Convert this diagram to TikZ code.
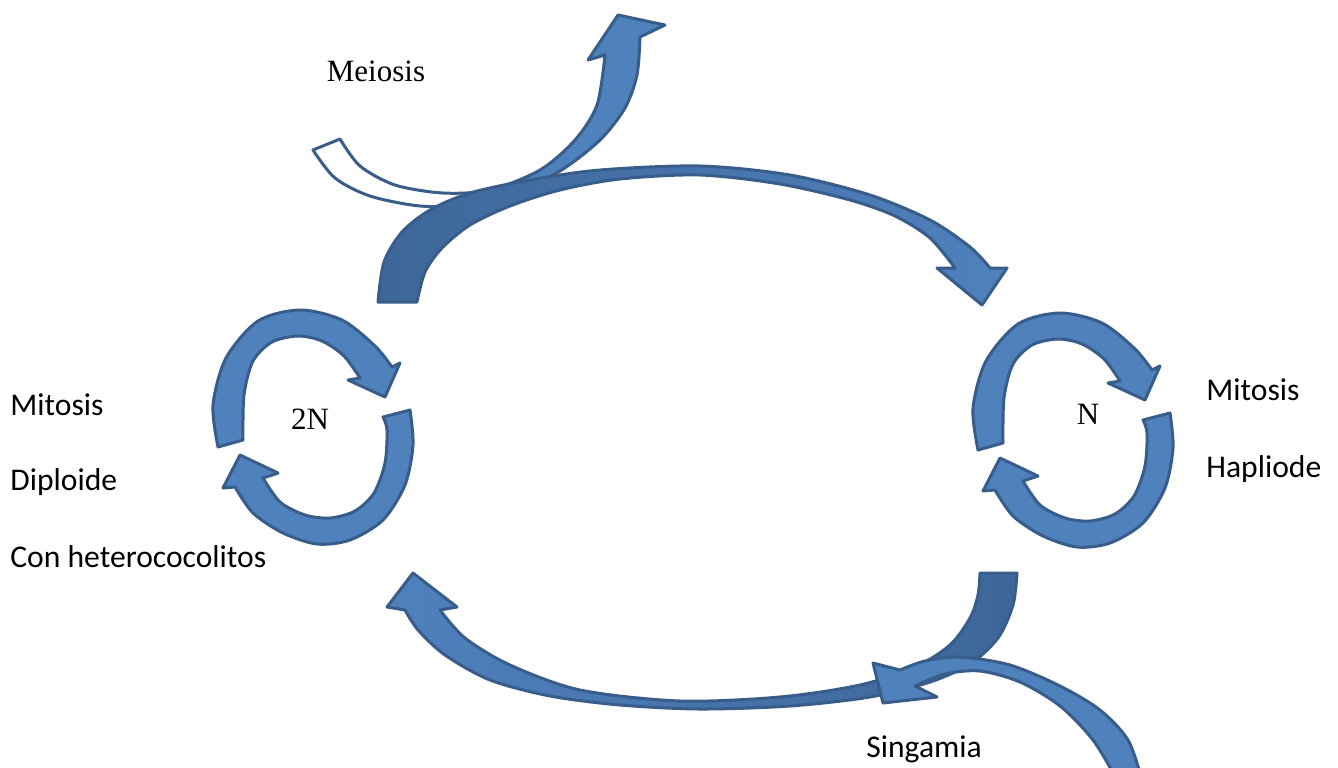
\documentclass[tikz,border=0pt]{standalone}
\usepackage{fontspec}
\setmainfont{Liberation Serif}
\newfontfamily\carlitofont{Carlito}
\definecolor{arrowfill}{HTML}{4F81BD}
\definecolor{arrowdark}{HTML}{3E6698}
\definecolor{arrowline}{HTML}{385D8A}
\tikzset{
  arrowshape/.style={fill=arrowfill, draw=arrowline, line width=1.5pt, line join=round},
  arrowedge/.style={draw=arrowline, line width=1.5pt, line join=round},
  serifbase/.style={font=\fontsize{15.5}{18}\selectfont, inner sep=0pt, anchor=base},
  sansbase/.style={font=\carlitofont\fontsize{15.8}{19}\selectfont, inner sep=0pt, anchor=base west},
  ringpair/.pic={
    \draw[arrowshape] plot[smooth] coordinates {(218,447) (213,405) (226,358) (258,321) (300,310) (342,320) (375,346) (392,367)}
      -- (400,363) -- (385,397) -- (348,380)
      -- plot[smooth] coordinates {(360,378) (344,356) (322,341) (298,336) (272,342) (253,361) (244,395) (243,440)} -- cycle;
    \draw[arrowshape] plot[smooth] coordinates {(410,410) (413,445) (405,485) (383,520) (350,540) (317,544) (283,533) (253,513) (235,487)}
      -- (223,488) -- (240,455) -- (278,473)
      -- plot[smooth] coordinates {(263,478) (280,502) (305,515) (330,518) (355,511) (374,493) (385,463) (387,430) (383,417)} -- cycle;
  }
}
\def\meiosispath{(313,150) -- (340,139) -- plot[smooth] coordinates {(340,139) (360,166) (395,185) (443,193) (490,190) (540,170) (575,140) (597,105) (605,55)} -- (588,60) -- (618,15) -- (665,25) -- (640,37) -- plot[smooth] coordinates {(640,37) (637,75) (625,108) (600,140) (560,171) (510,195) (467,205) (420,206) (370,196) (335,178) (313,150)} -- cycle}
\begin{document}
\begin{tikzpicture}[x=0.5pt,y=-0.5pt]
\useasboundingbox (0,0) rectangle (1338,767);
\fill[white] (0,0) rectangle (1338,767);

% Meiosis arrow: outlined tail, filled shaft
\begin{scope}
  \clip (0,0) rectangle (472,767);
  \fill[white] \meiosispath;
\end{scope}
\begin{scope}
  \clip (472,0) rectangle (1338,767);
  \fill[arrowfill] \meiosispath;
\end{scope}
\draw[arrowedge] \meiosispath;

% upper big curved arrow (2N -> N)
\draw[arrowedge, left color=arrowdark, right color=arrowfill]
  plot[smooth] coordinates {(378,302) (384,262) (402,232) (430,210) (470,193) (530,180) (600,170) (700,166) (790,175) (870,195) (930,220) (970,247) (990,268)}
  -- (1007,268) -- (982,305) -- (937,268)
  -- plot[smooth] coordinates {(955,268) (930,238) (895,216) (850,200) (780,184) (700,175) (620,179) (560,190) (510,206) (470,225) (442,248) (425,272) (417,302)} -- cycle;

% lower big curved arrow (N -> 2N)
\draw[arrowedge, left color=arrowfill, right color=arrowdark]
  plot[smooth] coordinates {(1017,573) (1013,605) (998,638) (970,664) (930,682) (870,697) (790,706) (700,709) (620,705) (550,696) (490,680) (445,655) (418,630) (405,610)}
  -- (387,607) -- (413,573) -- (457,607)
  -- plot[smooth] coordinates {(440,610) (465,638) (510,665) (580,690) (680,701) (780,697) (860,685) (915,667) (950,645) (970,618) (978,595) (980,573)} -- cycle;

% Singamia arrow
\draw[arrowshape]
  plot[smooth] coordinates {(1142,780) (1128,740) (1100,710) (1060,686) (1010,665) (960,657) (925,661) (900,670)}
  -- (873,663) -- (883,703) -- (937,697)
  -- plot[smooth] coordinates {(915,686) (945,674) (980,671) (1020,682) (1060,706) (1093,740) (1117,780)} -- cycle;

% circular arrows
\pic at (0,0) {ringpair};
\pic at (760,3) {ringpair};

% labels
\node[serifbase] (meiosis) at (376,81) {Meiosis};
\node[serifbase] (twoN) at (310,429) {2N};
\node[serifbase] (haplN) at (1088,424) {N};
\node[sansbase] (mitosisL) at (10,415) {Mitosis};
\node[sansbase] (diploide) at (10,490) {Diploide};
\node[sansbase] (conhet) at (10,567) {Con heterococolitos};
\node[sansbase] (mitosisR) at (1206,400) {Mitosis};
\node[sansbase] (hapliode) at (1206,477) {Hapliode};
\node[sansbase] (singamia) at (866,757) {Singamia};
\end{tikzpicture}
\end{document}
